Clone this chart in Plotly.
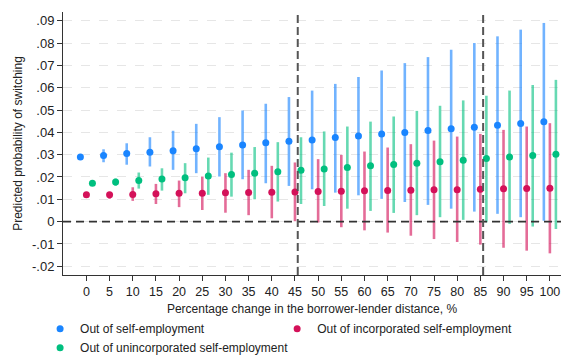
import plotly.graph_objects as go

# Percentage change in borrower-lender distance
distance = [0, 5, 10, 15, 20, 25, 30, 35, 40, 45, 50,
            55, 60, 65, 70, 75, 80, 85, 90, 95, 100]

# Out of self-employment: point estimate and 95% CI
self_emp = [0.0289, 0.0296, 0.0305, 0.0311, 0.0318, 0.0327, 0.0335, 0.0343, 0.0353, 0.0360, 0.0366,
            0.0377, 0.0384, 0.0392, 0.0399, 0.0408, 0.0416, 0.0423, 0.0432, 0.0440, 0.0447]
self_emp_lo = [0.0277, 0.0266, 0.0255, 0.0247, 0.0232, 0.0217, 0.0202, 0.0190, 0.0172, 0.0160, 0.0145,
               0.0130, 0.0118, 0.0102, 0.0088, 0.0075, 0.0058, 0.0045, 0.0035, 0.0020, 0.0004]
self_emp_hi = [0.0301, 0.0324, 0.0351, 0.0378, 0.0407, 0.0438, 0.0468, 0.0498, 0.0528, 0.0558, 0.0587,
               0.0617, 0.0648, 0.0677, 0.0710, 0.0737, 0.0770, 0.0800, 0.0830, 0.0860, 0.0890]

# Out of incorporated self-employment
incorp = [0.0120, 0.0120, 0.0122, 0.0125, 0.0127, 0.0127, 0.0129, 0.0130, 0.0132, 0.0133, 0.0135,
          0.0136, 0.0138, 0.0139, 0.0141, 0.0143, 0.0143, 0.0145, 0.0147, 0.0148, 0.0150]
incorp_lo = [0.0112, 0.0102, 0.0093, 0.0079, 0.0065, 0.0052, 0.0040, 0.0029, 0.0015, 0.0002, -0.0004,
             -0.0025, -0.0039, -0.0049, -0.0063, -0.0078, -0.0091, -0.0103, -0.0117, -0.0130, -0.0142]
incorp_hi = [0.0128, 0.0133, 0.0154, 0.0169, 0.0184, 0.0202, 0.0217, 0.0232, 0.0250, 0.0265, 0.0280,
             0.0299, 0.0314, 0.0332, 0.0347, 0.0363, 0.0381, 0.0393, 0.0411, 0.0426, 0.0441]

# Out of unincorporated self-employment
unincorp = [0.0172, 0.0178, 0.0184, 0.0191, 0.0197, 0.0204, 0.0211, 0.0217, 0.0223, 0.0230, 0.0236,
            0.0242, 0.0250, 0.0256, 0.0262, 0.0268, 0.0275, 0.0283, 0.0290, 0.0296, 0.0302]
unincorp_lo = [0.0165, 0.0160, 0.0148, 0.0139, 0.0127, 0.0120, 0.0112, 0.0100, 0.0090, 0.0079, 0.0070,
               0.0058, 0.0048, 0.0039, 0.0029, 0.0020, 0.0008, -0.0003, -0.0010, -0.0022, -0.0033]
unincorp_hi = [0.0180, 0.0193, 0.0220, 0.0239, 0.0262, 0.0287, 0.0309, 0.0334, 0.0356, 0.0378, 0.0404,
               0.0426, 0.0448, 0.0471, 0.0496, 0.0519, 0.0543, 0.0564, 0.0587, 0.0612, 0.0635]

# Thresholds marked with vertical reference lines
thresholds = [45.6, 85.6]

y_ticks = [-0.02, -0.01, 0, 0.01, 0.02, 0.03, 0.04, 0.05, 0.06, 0.07, 0.08, 0.09]
y_labels = ["-.02", "-.01", "0", ".01", ".02", ".03", ".04", ".05", ".06", ".07", ".08", ".09"]

FONT = "Liberation Sans, Arial, Helvetica, sans-serif"

# name, estimates, lower, upper, horizontal dodge, marker colour, CI colour, legend column
series = [
    ("Out of self-employment", self_emp, self_emp_lo, self_emp_hi, -1.3,
     "rgb(26,133,255)", "rgba(26,133,255,0.62)", "legend"),
    ("Out of incorporated self-employment", incorp, incorp_lo, incorp_hi, 0.0,
     "rgb(212,17,89)", "rgba(212,17,89,0.62)", "legend2"),
    ("Out of unincorporated self-employment", unincorp, unincorp_lo, unincorp_hi, 1.3,
     "rgb(0,191,127)", "rgba(0,191,127,0.6)", "legend"),
]

fig = go.Figure()
for name, mid, lo, hi, shift, color, ci_color, leg in series:
    fig.add_trace(go.Scatter(
        x=[d + shift for d in distance],
        y=mid,
        mode="markers",
        name=name,
        legend=leg,
        marker=dict(color=color, size=7),
        error_y=dict(
            type="data",
            symmetric=False,
            array=[h - m for h, m in zip(hi, mid)],
            arrayminus=[m - l for m, l in zip(mid, lo)],
            color=ci_color,
            thickness=2.6,
            width=0,
        ),
    ))

shapes = [dict(type="line", xref="paper", yref="y", x0=0, x1=1, y0=0, y1=0,
               line=dict(color="#333333", width=1.6, dash="8px,5px"), layer="above")]
for t in thresholds:
    shapes.append(dict(type="line", xref="x", yref="paper", x0=t, x1=t, y0=0, y1=1,
                       line=dict(color="#555555", width=2, dash="8px,4px"), layer="above"))

legend_style = dict(
    orientation="v",
    xanchor="left",
    y=-0.149,
    yanchor="top",
    itemwidth=30,
    itemsizing="trace",
    font=dict(family=FONT, size=12, color="#222222"),
    tracegroupgap=0,
    bgcolor="rgba(0,0,0,0)",
)

fig.update_layout(
    width=561,
    height=363,
    margin=dict(l=63, r=0, t=12, b=88, autoexpand=False),
    paper_bgcolor="white",
    plot_bgcolor="white",
    font=dict(family=FONT, size=12, color="#222222"),
    shapes=shapes,
    showlegend=True,
    legend=dict(x=-0.046, **legend_style),
    legend2=dict(x=0.430, **legend_style),
    xaxis=dict(
        range=[-5.05, 102.4],
        tickvals=distance,
        ticks="outside",
        ticklen=5,
        tickcolor="#333333",
        showline=True,
        linecolor="#333333",
        linewidth=1,
        showgrid=False,
        zeroline=False,
        tickfont=dict(size=12.5),
        title=dict(text="Percentage change in the borrower-lender distance, %",
                   font=dict(size=12), standoff=6),
    ),
    yaxis=dict(
        range=[-0.0239, 0.0939],
        tickvals=y_ticks,
        ticktext=y_labels,
        ticks="outside",
        ticklen=5,
        tickcolor="#333333",
        showline=True,
        linecolor="#333333",
        linewidth=1,
        showgrid=True,
        gridcolor="#e6e6e6",
        griddash="dash",
        gridwidth=1,
        zeroline=False,
        tickfont=dict(size=13),
        title=dict(text="Predicted probability of switching",
                   font=dict(size=12), standoff=6),
    ),
)

fig.write_html("out.html")
